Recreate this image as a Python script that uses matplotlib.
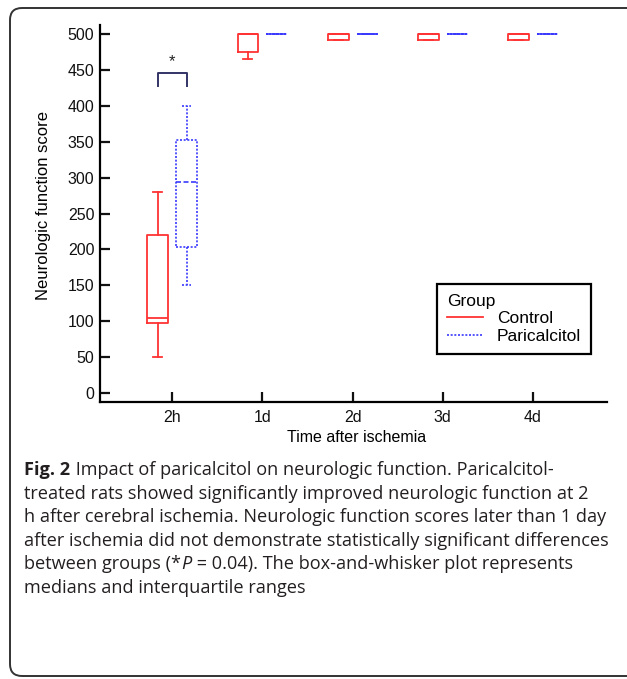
import matplotlib
matplotlib.use("Agg")
import matplotlib.pyplot as plt
from matplotlib.patches import FancyBboxPatch
from matplotlib.lines import Line2D

# neurologic function scores (box-and-whisker stats)
times = ['2h', '1d', '2d', '3d', '4d']
control_min = [50, 465, 491, 491, 491]
control_q1 = [98, 475, 491, 491, 491]
control_med = [104, 500, 500, 500, 500]
control_q3 = [220, 500, 500, 500, 500]
control_max = [280, 500, 500, 500, 500]

paric_min = [150, 500, 500, 500, 500]
paric_q1 = [204, 500, 500, 500, 500]
paric_med = [294, 500, 500, 500, 500]
paric_q3 = [352, 500, 500, 500, 500]
paric_max = [400, 500, 500, 500, 500]

sig_low, sig_high = 427, 446   # significance bracket at 2h
y_ticks = list(range(0, 501, 50))

caption_lines = [
    [("Fig. 2", "bold", "normal"), (" Impact of paricalcitol on neurologic function. Paricalcitol-", "normal", "normal")],
    [("treated rats showed significantly improved neurologic function at 2", "normal", "normal")],
    [("h after cerebral ischemia. Neurologic function scores later than 1 day", "normal", "normal")],
    [("after ischemia did not demonstrate statistically significant differences", "normal", "normal")],
    [("between groups (*", "normal", "normal"), ("P", "normal", "italic"),
     (" = 0.04). The box-and-whisker plot represents", "normal", "normal")],
    [("medians and interquartile ranges", "normal", "normal")],
]

RED = '#ff3333'
BLUE = '#3a3aff'
W, H = 627, 679

plt.rcParams['font.family'] = ['Liberation Sans', 'DejaVu Sans']

fig = plt.figure(figsize=(W / 100, H / 100), dpi=100)
ax = fig.add_axes([100 / W, 1 - 402 / H, 507 / W, 377 / H])


def make_stats(lo, q1, med, q3, hi):
    return [dict(whislo=a, q1=b, med=c, q3=d, whishi=e, fliers=[])
            for a, b, c, d, e in zip(lo, q1, med, q3, hi)]


pos = list(range(1, len(times) + 1))
off = 0.16
ctrl_style = dict(color=RED, linewidth=1.3)
ax.bxp(make_stats(control_min, control_q1, control_med, control_q3, control_max),
       positions=[p - off for p in pos], widths=0.23, capwidths=0.1,
       boxprops=ctrl_style, whiskerprops=ctrl_style, capprops=ctrl_style,
       medianprops=ctrl_style, showfliers=False, manage_ticks=False)

par_style = dict(color=BLUE, linewidth=1.2, linestyle=(0, (1.2, 1.0)))
ax.bxp(make_stats(paric_min, paric_q1, paric_med, paric_q3, paric_max),
       positions=[p + off for p in pos], widths=0.23, capwidths=0.1,
       boxprops=par_style, whiskerprops=par_style, capprops=par_style,
       medianprops=dict(color=BLUE, linewidth=1.2, linestyle=(0, (3, 1.5))),
       showfliers=False, manage_ticks=False)

# significance bracket
ax.plot([1 - off, 1 - off, 1 + off, 1 + off], [sig_low, sig_high, sig_high, sig_low],
        color='#333366', linewidth=1.4)
ax.text(1, sig_high + 15, '*', ha='center', va='center', fontsize=12, color='#222222')

ax.set_xlim(0.2, 5.82)
ax.set_ylim(-12.5, 512.5)
ax.set_xticks(pos)
ax.set_xticklabels(times)
ax.set_yticks(y_ticks)

for side in ['top', 'right']:
    ax.spines[side].set_visible(False)
for side in ['left', 'bottom']:
    ax.spines[side].set_linewidth(1.6)
ax.tick_params(direction='in', length=7, width=1.6, labelsize=11.5, colors='#111111')
ax.tick_params(axis='x', pad=6)
ax.tick_params(axis='y', pad=4)

ax.set_xlabel('Time after ischemia', fontsize=11.5)
ax.set_ylabel('Neurologic function score', fontsize=12)
ax.xaxis.set_label_coords(0.507, -0.075)
ax.yaxis.set_label_coords(-0.097, 0.52)

handles = [Line2D([], [], color=RED, linewidth=1.3),
           Line2D([], [], color=BLUE, linewidth=1.2, linestyle=(0, (1.2, 1.0)))]
leg = ax.legend(handles, ['Control', 'Paricalcitol'], title='Group',
                loc='upper left', bbox_to_anchor=(0.665, 0.313), borderaxespad=0,
                fancybox=False, edgecolor='black', fontsize=12.5, title_fontsize=12.5,
                handlelength=2.1, handletextpad=0.8, labelspacing=0.15,
                borderpad=0.55, framealpha=1)
leg._legend_box.align = 'left'
leg.get_frame().set_linewidth(1.6)

# caption
cap_color = '#231f20'
cap_family = ['Open Sans', 'DejaVu Sans']
renderer = fig.canvas.get_renderer()
probe = fig.text(0, 0, caption_lines[3][0][0], fontsize=12, family=cap_family)
cap_size = 12 * 583 / probe.get_window_extent(renderer).width
probe.remove()

x0 = 24 / W
for i, runs in enumerate(caption_lines):
    base = 1 - (479 + i * 23.6) / H
    prev = None
    for s, weight, style in runs:
        kw = dict(fontsize=cap_size, family=cap_family, color=cap_color,
                  fontweight=weight, fontstyle=style, va='bottom')
        if prev is None:
            prev = fig.text(x0, base, s, **kw)
        else:
            bb = prev.get_window_extent(renderer)
            shift = 0 if style == 'italic' else 1
            prev = fig.text(bb.x1 + shift, bb.y0, s, transform=None, **kw)

# outer frame with rounded corners (right side runs off the image)
frame = FancyBboxPatch((10, 3), 660, 668, boxstyle='round,pad=0,rounding_size=12',
                       transform=None, fill=False, edgecolor='#333333', linewidth=1.4)
fig.add_artist(frame)

fig.savefig('out.png', dpi=100)
